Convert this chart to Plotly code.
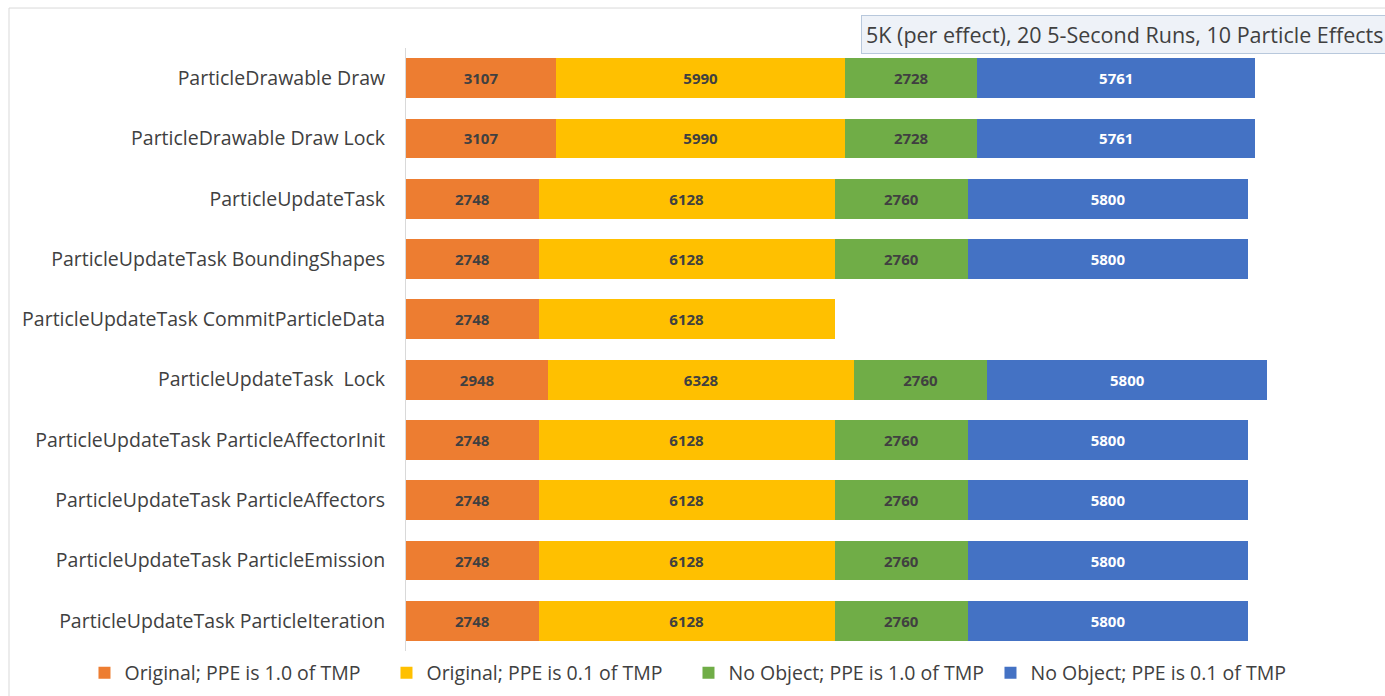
import plotly.graph_objects as go

categories = [
    'ParticleDrawable Draw',
    'ParticleDrawable Draw Lock',
    'ParticleUpdateTask',
    'ParticleUpdateTask BoundingShapes',
    'ParticleUpdateTask CommitParticleData',
    'ParticleUpdateTask  Lock',
    'ParticleUpdateTask ParticleAffectorInit',
    'ParticleUpdateTask ParticleAffectors',
    'ParticleUpdateTask ParticleEmission',
    'ParticleUpdateTask ParticleIteration',
]

orig_10 = [3107, 3107, 2748, 2748, 2748, 2948, 2748, 2748, 2748, 2748]
orig_01 = [5990, 5990, 6128, 6128, 6128, 6328, 6128, 6128, 6128, 6128]
noobj_10 = [2728, 2728, 2760, 2760, None, 2760, 2760, 2760, 2760, 2760]
noobj_01 = [5761, 5761, 5800, 5800, None, 5800, 5800, 5800, 5800, 5800]

series = [
    ('Original; PPE is 1.0 of TMP', orig_10, '#ED7D31', '#404040'),
    ('Original; PPE is 0.1 of TMP', orig_01, '#FFC000', '#404040'),
    ('No Object; PPE is 1.0 of TMP', noobj_10, '#70AD47', '#404040'),
    ('No Object; PPE is 0.1 of TMP', noobj_01, '#4472C4', '#FFFFFF'),
]

font_family = 'Open Sans, Lato, sans-serif'

fig = go.Figure()
for name, vals, color, txtcolor in series:
    fig.add_trace(go.Bar(
        y=categories, x=vals, name=name, orientation='h',
        marker=dict(color=color, line=dict(width=0)),
        text=[str(v) if v is not None else '' for v in vals],
        textposition='inside', insidetextanchor='middle',
        textfont=dict(color=txtcolor, size=15, family=font_family, weight='bold'),
        constraintext='none',
    ))

fig.update_layout(
    barmode='stack',
    bargap=0.34,
    width=1385, height=696,
    margin=dict(l=0, r=0, t=48, b=45, autoexpand=False),
    plot_bgcolor='white', paper_bgcolor='white',
    font=dict(family=font_family, color='#404040', size=19),
    showlegend=True,
    legend=dict(
        orientation='h', xref='container', yref='container',
        x=0.061, xanchor='left', y=0.033, yanchor='middle',
        font=dict(size=19.5, color='#404040'),
        traceorder='normal', entrywidth=257, entrywidthmode='pixels',
        itemwidth=30,
    ),
    annotations=[dict(
        text='5K (per effect), 20 5-Second Runs, 10 Particle Effects',
        xref='paper', yref='paper', x=1.003, y=1.0216,
        xanchor='right', yanchor='middle', showarrow=False,
        font=dict(size=21.5, color='#404040', family=font_family),
        bgcolor='#EEF2F8', bordercolor='#B8C8DC', borderwidth=1, borderpad=4,
    )],
    shapes=[
        dict(type='line', xref='paper', yref='paper', x0=0.0065, x1=1.0,
             y0=1.0663, y1=1.0663, line=dict(color='#D9D9D9', width=1)),
        dict(type='line', xref='paper', yref='paper', x0=0.0065, x1=0.0065,
             y0=-0.08, y1=1.0663, line=dict(color='#D9D9D9', width=1)),
    ],
)

fig.update_xaxes(range=[0, 20270], domain=[406 / 1385, 1], visible=False, showgrid=False)
fig.update_yaxes(
    autorange='reversed', showgrid=False, showline=True, automargin=False,
    linecolor='#D9D9D9', linewidth=1, ticks='', ticklabelstandoff=16,
    tickfont=dict(size=19.5, color='#404040'),
)

fig.write_html('out.html', config={'displayModeBar': False},
               post_script="document.body.style.margin='0';document.body.style.padding='0';")
